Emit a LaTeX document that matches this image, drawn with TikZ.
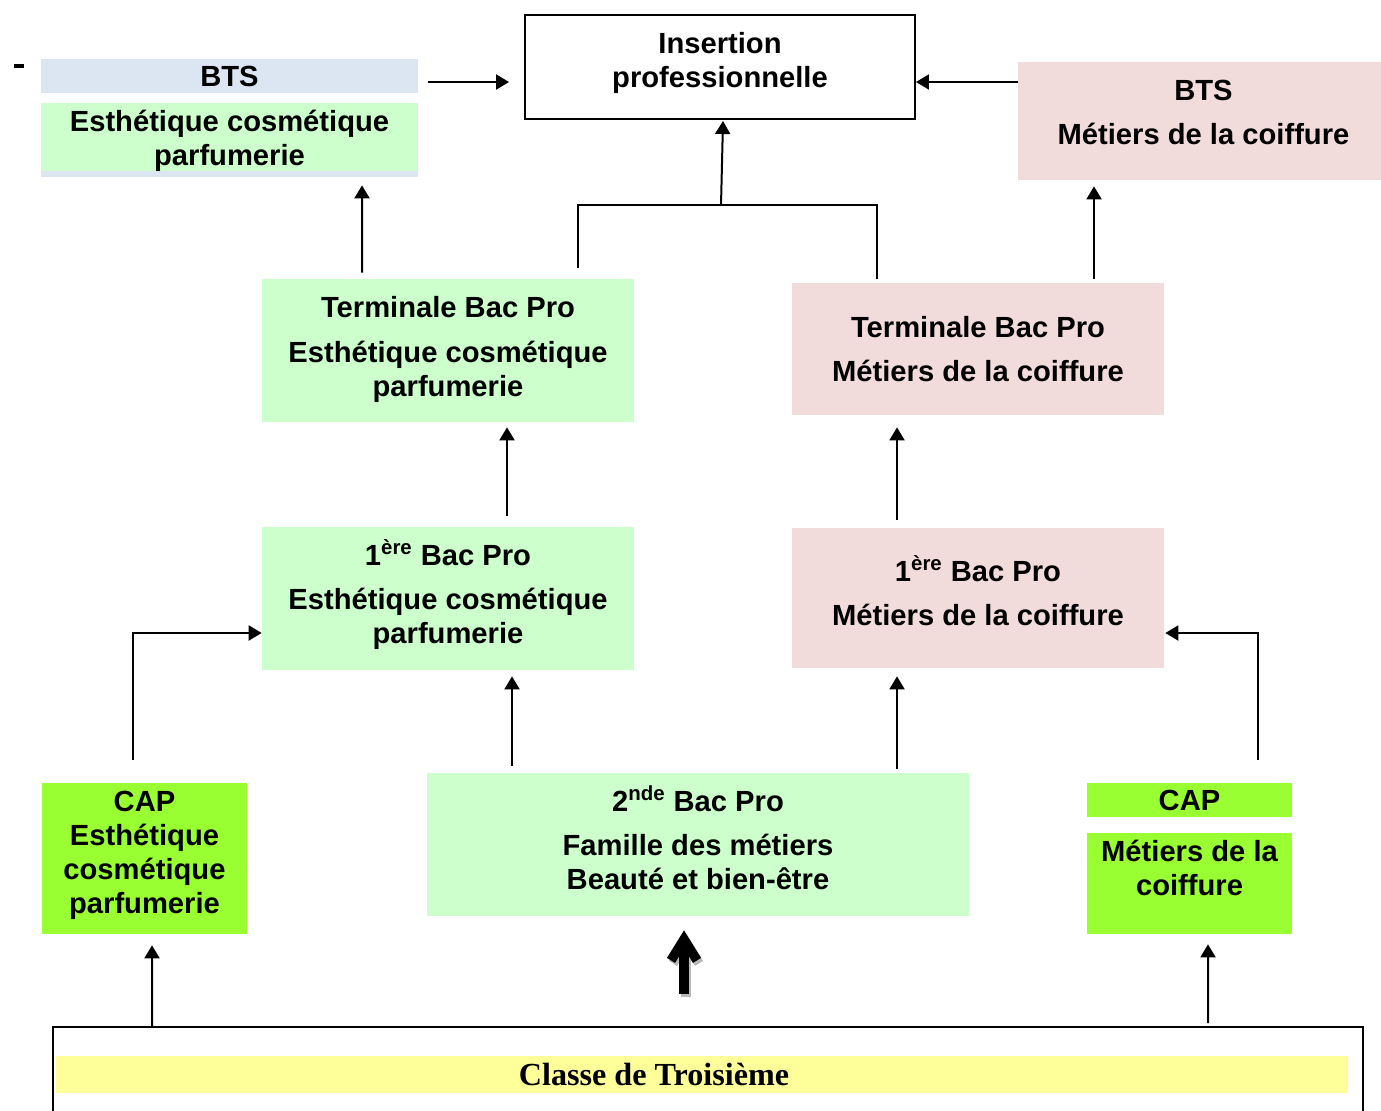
\documentclass[tikz,border=0pt]{standalone}
\usepackage{fontspec}
\setmainfont{Liberation Sans}
\newfontfamily\classfont{Liberation Serif}
\usepackage{xcolor}
\usetikzlibrary{arrows.meta,calc}

\definecolor{btsblue}{HTML}{DCE6F2}
\definecolor{estgreen}{HTML}{CCFFCC}
\definecolor{coifpink}{HTML}{F2DCDB}
\definecolor{caplime}{HTML}{99FF33}
\definecolor{classyellow}{HTML}{FFFF99}

\tikzset{
  panel/.style={inner sep=0pt},
  txt/.style={align=center, inner sep=0pt, font=\fontsize{16.6}{19.4}\selectfont\bfseries},
  arr/.style={line width=0.04cm, -{Triangle[length=0.26cm,width=0.3cm]}},
  link/.style={line width=0.04cm},
  bigarr/.style={line width=0.19cm, -{Straight Barb[length=0.42cm,width=0.52cm]}},
}

\begin{document}
\begin{tikzpicture}[x=0.02cm, y=-0.02cm]
\clip (0,0) rectangle (1381,1110);

% Stray mark
\draw[line width=0.07cm] (14,66) -- (24,66);

% Top row
\node[panel, fill=btsblue, minimum width=7.54cm, minimum height=0.68cm] (btsLhead) at (229.5,76) {};
\node[txt] at (btsLhead) {BTS};
\fill[btsblue] (41,171) rectangle (418,177);
\node[panel, fill=estgreen, minimum width=7.54cm, minimum height=1.36cm] (btsL) at (229.5,137) {};
\node[txt] at ([shift={(0,3.5)}]btsL) {Esthétique cosmétique\\parfumerie};
\node[panel, draw, line width=0.04cm, fill=white, minimum width=7.8cm, minimum height=2.08cm] (ins) at (720,67) {};
\node[txt] at ([shift={(0,-4)}]ins) {Insertion\\professionnelle};
\node[panel, fill=coifpink, minimum width=7.26cm, minimum height=2.36cm] (btsR) at (1199.5,121) {};
\node[txt] at ([shift={(4,-9)}]btsR) {BTS\\[0.2cm]Métiers de la coiffure};

% Terminale
\node[panel, fill=estgreen, minimum width=7.44cm, minimum height=2.86cm] (termL) at (448,350.5) {};
\node[txt] at ([shift={(0,-1)}]termL) {Terminale Bac Pro\\[0.2cm]Esthétique cosmétique\\parfumerie};
\node[panel, fill=coifpink, minimum width=7.44cm, minimum height=2.64cm] (termR) at (978,349) {};
\node[txt] at (termR) {Terminale Bac Pro\\[0.2cm]Métiers de la coiffure};

% Premiere
\node[panel, fill=estgreen, minimum width=7.44cm, minimum height=2.86cm] (premL) at (448,598.5) {};
\node[txt] at ([shift={(0,-4)}]premL) {1\textsuperscript{ère} Bac Pro\\[0.2cm]Esthétique cosmétique\\parfumerie};
\node[panel, fill=coifpink, minimum width=7.44cm, minimum height=2.8cm] (premR) at (978,598) {};
\node[txt] at ([shift={(0,-7)}]premR) {1\textsuperscript{ère} Bac Pro\\[0.2cm]Métiers de la coiffure};

% Seconde and CAP
\node[panel, fill=estgreen, minimum width=10.84cm, minimum height=2.86cm] (seconde) at (698,844.5) {};
\node[txt] at ([shift={(0,-7)}]seconde) {2\textsuperscript{nde} Bac Pro\\[0.2cm]Famille des métiers\\Beauté et bien-être};
\node[panel, fill=caplime, minimum width=4.1cm, minimum height=3.02cm] (capL) at (144.5,858.5) {};
\node[txt] at ([shift={(0,-3)}]capL) {CAP\\Esthétique\\cosmétique\\parfumerie};
\node[panel, fill=caplime, minimum width=4.1cm, minimum height=0.68cm] (capRhead) at (1189.5,800) {};
\node[txt] at (capRhead) {CAP};
\node[panel, fill=caplime, minimum width=4.1cm, minimum height=2.02cm] (capR) at (1189.5,883.5) {};
\node[txt] at ([shift={(0,-15.5)}]capR) {Métiers de la\\coiffure};

% Classe de Troisieme
\node[panel, draw, line width=0.04cm, minimum width=26.2cm, minimum height=2.26cm] (frame) at (708,1083.5) {};
\node[panel, fill=classyellow, minimum width=25.84cm, minimum height=0.74cm] (troisieme) at (702,1074.5) {};
\node[inner sep=0pt, font=\classfont\bfseries\fontsize{18.3}{21}\selectfont] at (654,1074.5) {Classe de Troisième};

% Arrows to Insertion professionnelle
\draw[arr] ([shift={(10,6)}]btsLhead.east) -- ([shift={(-15,15)}]ins.west);
\draw[arr] ([shift={(0,-39)}]btsR.west) -- ([shift={(0,15)}]ins.east);
\coordinate (merge) at (721,205);
\draw[link] ($(termL.north)+(130,-11)$) |- (merge) -| ($(termR.north)+(-101,-4)$);
\draw[arr] (merge) -- ($(ins.south)+(3,1)$);

% Arrows to BTS
\draw[arr] ($(termL.north)+(-86,-6)$) -- ($(btsL.south)+(132.5,14)$);
\draw[arr] ($(termR.north)+(116,-4)$) -- ($(btsR.south)+(-105.5,6)$);

% Arrows to Terminale
\draw[arr] ($(premL.north)+(59,-11)$) -- ($(termL.south)+(59,5)$);
\draw[arr] ($(premR.north)+(-81,-8)$) -- ($(termR.south)+(-81,12)$);

% Arrows to Premiere
\draw[arr] ($(seconde.north)+(-186,-7)$) -- ($(premL.south)+(64,6)$);
\draw[arr] ($(seconde.north)+(199,-4)$) -- ($(premR.south)+(-81,8)$);
\draw[arr] ($(capL.north)+(-11.5,-23)$) |- ($(premL.west)+(0,34.5)$);
\draw[arr] ($(capRhead.north)+(68.5,-23)$) |- ($(premR.east)+(1,35)$);

% Arrows from Troisieme
\draw[arr] ($(frame.north)+(-556,0)$) -- ($(capL.south)+(7.5,11)$);
\draw[arr] ($(frame.north)+(500,-3)$) -- ($(capR.south)+(18.5,10)$);
\draw[bigarr, gray!55] ($(frame.north)+(-22,-29)$) -- ($(seconde.south)+(-12,17)$);
\draw[bigarr] ($(frame.north)+(-24,-32)$) -- ($(seconde.south)+(-14,14)$);

\end{tikzpicture}
\end{document}
